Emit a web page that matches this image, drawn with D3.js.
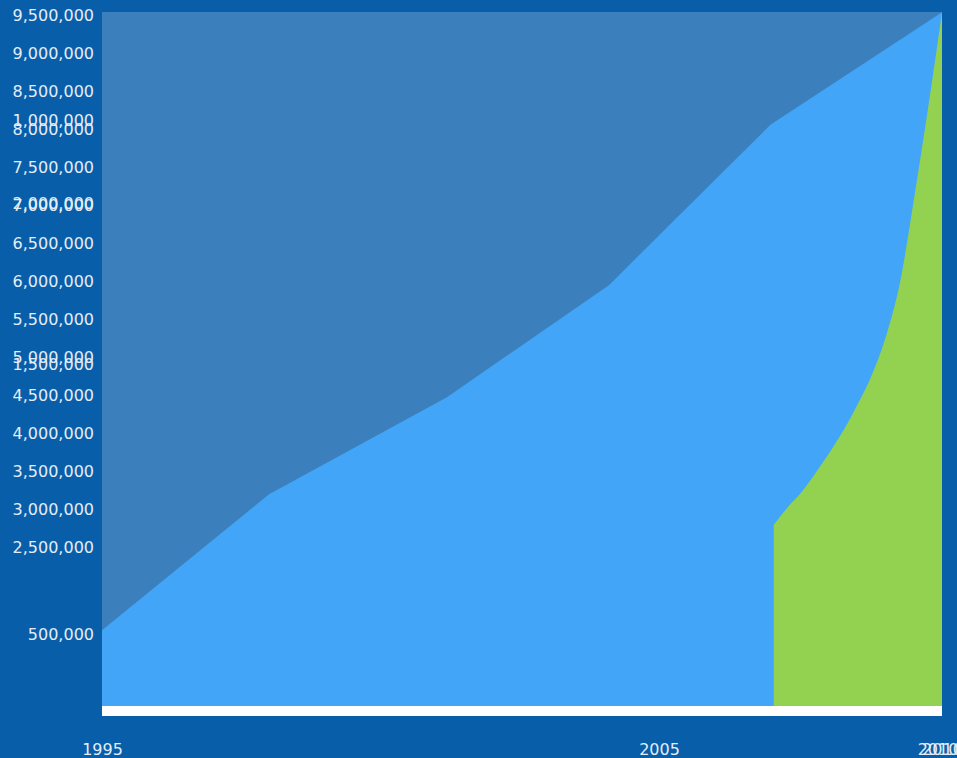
<!DOCTYPE html>
<html>
<head>
<meta charset="utf-8">
<script src="https://cdn.jsdelivr.net/npm/d3@7"></script>
<style>
  html, body { margin: 0; padding: 0; background: #095ea9; }
  svg { display: block; }
  .axis text { font-family: "DejaVu Sans", Verdana, sans-serif; font-size: 16px; fill: #e4edf7; }
</style>
</head>
<body>
<div id="chart"></div>
<script>
// total series (blue)
const totalYears = [1995, 1998, 2001.2, 2004.1, 2007, 2010.08];
const totalValues = [1410000, 3200000, 4480000, 5950000, 8060000, 9540000];

// second series (green), roughly quarterly from early 2007
const greenYears = [2007.06, 2007.31, 2007.56, 2007.81, 2008.07, 2008.32, 2008.57, 2008.82,
  2009.08, 2009.33, 2009.58, 2009.83, 2010.08];
const greenValues = [2800000, 3030000, 3230000, 3480000, 3760000, 4050000, 4390000, 4770000,
  5290000, 6000000, 7100000, 8280000, 9540000];

// tick labels
const mainTicks = [2500000, 3000000, 3500000, 4000000, 4500000, 5000000, 5500000, 6000000,
  6500000, 7000000, 7500000, 8000000, 8500000, 9000000, 9500000];
const sideTicks = [500000, 1000000, 1500000, 2000000];
const sideTickPos = [634.7, 120.5, 364, 203];
const xTicks = [1995, 2005, 2010, 2010.08];

const W = 957, H = 758;
const plot = { left: 102, right: 942, top: 12, bottom: 706, barH: 10 };

const svg = d3.select("#chart")
  .append("svg")
  .attr("width", W)
  .attr("height", H);

svg.append("rect")
  .attr("width", W)
  .attr("height", H)
  .attr("fill", "#095ea9");

const x = d3.scaleLinear().domain([1995, 2010.08]).range([plot.left, plot.right]);
const y = d3.scaleLinear().domain([0, 9500000]).range([737.5, 15.3]);
const ySide = d3.scaleOrdinal().domain(sideTicks).range(sideTickPos);

// plot background
svg.append("rect")
  .attr("x", plot.left)
  .attr("y", plot.top)
  .attr("width", plot.right - plot.left)
  .attr("height", plot.bottom - plot.top)
  .attr("fill", "#3b80bc");

const totalData = totalYears.map((yr, i) => ({ year: yr, value: totalValues[i] }));
const greenData = greenYears.map((yr, i) => ({ year: yr, value: greenValues[i] }));

const area = d3.area()
  .x((d) => x(d.year))
  .y0(plot.bottom)
  .y1((d) => Math.max(plot.top, y(d.value)));

svg.append("path")
  .datum(totalData)
  .attr("fill", "#42a5f7")
  .attr("d", area);

svg.append("path")
  .datum(greenData)
  .attr("fill", "#93d150")
  .attr("d", area.curve(d3.curveMonotoneX));

// white base strip
svg.append("rect")
  .attr("x", plot.left)
  .attr("y", plot.bottom)
  .attr("width", plot.right - plot.left)
  .attr("height", plot.barH)
  .attr("fill", "#ffffff");

/* ---------- Axes ---------- */
const yAxis = svg.append("g")
  .attr("class", "axis")
  .attr("transform", `translate(${plot.left},0)`)
  .call(d3.axisLeft(y).tickValues(mainTicks).tickSize(0).tickPadding(8).tickFormat(d3.format(",")));
yAxis.select(".domain").remove();

const sideAxis = svg.append("g")
  .attr("class", "axis")
  .attr("transform", `translate(${plot.left},0)`)
  .call(d3.axisLeft(ySide).tickSize(0).tickPadding(8).tickFormat(d3.format(",")));
sideAxis.select(".domain").remove();

const xAxis = svg.append("g")
  .attr("class", "axis")
  .attr("transform", `translate(0,${plot.bottom + plot.barH})`)
  .call(d3.axisBottom(x).tickValues(xTicks).tickSize(0).tickPadding(27.6).tickFormat(d3.format(".0f")));
xAxis.select(".domain").remove();
</script>
</body>
</html>
